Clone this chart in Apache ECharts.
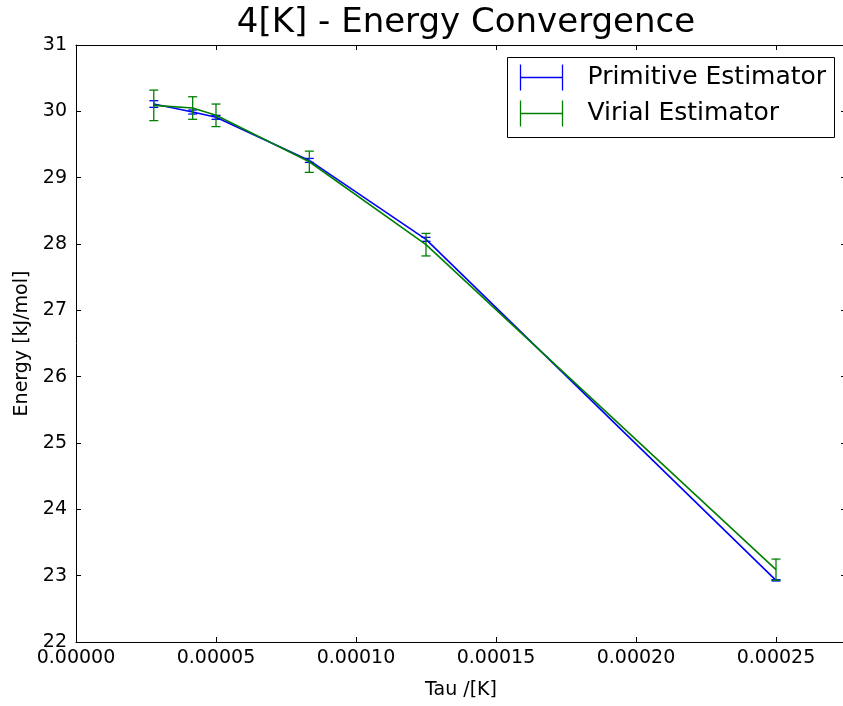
<!DOCTYPE html>
<html>
<head>
<meta charset="utf-8">
<script src="https://cdn.jsdelivr.net/npm/echarts@6/dist/echarts.min.js"></script>
<style>
  html, body { margin: 0; padding: 0; background: #fff; overflow: hidden; }
  /* The plot's right spine sits just past the visible 843px edge */
  #chart { width: 852px; height: 706px; }
</style>
</head>
<body>
<div id="chart"></div>
<script>
// Imaginary-time step (tau) for each run
const tau = [2.778e-5, 4.167e-5, 5.0e-5, 8.333e-5, 1.25e-4, 2.5e-4];

// Primitive estimator energy and its error
const primitive = [30.11, 29.99, 29.91, 29.26, 28.07, 22.93];
const primitiveErr = [0.05, 0.03, 0.03, 0.03, 0.03, 0.01];

// Virial estimator energy and its error
const virial = [30.09, 30.05, 29.94, 29.24, 27.99, 23.09];
const virialErr = [0.23, 0.17, 0.17, 0.16, 0.17, 0.16];

const yTicks = [22, 23, 24, 25, 26, 27, 28, 29, 30, 31];
const xTicks = [0, 0.00005, 0.0001, 0.00015, 0.0002, 0.00025];

const FONT = 'DejaVu Sans';
const BLUE = '#0000ff';
const GREEN = '#008000';

const chart = echarts.init(document.getElementById('chart'), null, { renderer: 'canvas' });

function lineData(vals) {
  return tau.map((t, i) => [t, vals[i]]);
}
function barData(vals, errs) {
  return tau.map((t, i) => [t, vals[i], errs[i]]);
}

// Vertical error bar with horizontal caps
function errorBarRenderer(color) {
  return function (params, api) {
    const x = api.value(0), y = api.value(1), e = api.value(2);
    const hi = api.coord([x, y + e]);
    const lo = api.coord([x, y - e]);
    const cap = 4.5;
    const style = { stroke: color, lineWidth: 1.3 };
    return {
      type: 'group',
      children: [
        { type: 'line', shape: { x1: hi[0], y1: hi[1], x2: lo[0], y2: lo[1] }, style },
        { type: 'line', shape: { x1: hi[0] - cap, y1: hi[1], x2: hi[0] + cap, y2: hi[1] }, style },
        { type: 'line', shape: { x1: lo[0] - cap, y1: lo[1], x2: lo[0] + cap, y2: lo[1] }, style }
      ]
    };
  };
}

const axisCommon = {
  axisLine: { show: true, onZero: false, lineStyle: { color: '#000', width: 1 } },
  axisTick: { show: true, inside: true, length: 5, lineStyle: { color: '#000', width: 1 } },
  splitLine: { show: false }
};

const xMin = 0, xMax = 0.000275, xStep = 0.00005;
const yMin = yTicks[0], yMax = yTicks[yTicks.length - 1], yStep = 1;

const option = {
  animation: false,
  backgroundColor: '#fff',
  title: {
    text: '4[K] - Energy Convergence',
    left: 461,
    textAlign: 'center',
    top: 1,
    textStyle: { fontFamily: FONT, fontSize: 34, fontWeight: 'normal', color: '#000' }
  },
  grid: { left: 76, top: 45, right: 6, bottom: 64 },
  xAxis: [
    Object.assign({}, axisCommon, {
      type: 'value', min: xMin, max: xMax, interval: xStep, position: 'bottom',
      name: 'Tau /[K]', nameLocation: 'middle', nameGap: 39,
      nameTextStyle: { fontFamily: FONT, fontSize: 19, color: '#000' },
      axisLabel: {
        show: true, margin: 7, color: '#000', fontFamily: FONT, fontSize: 19,
        formatter: v => (xTicks.some(t => Math.abs(t - v) < 1e-9) ? v.toFixed(5) : '')
      }
    }),
    Object.assign({}, axisCommon, {
      type: 'value', min: xMin, max: xMax, interval: xStep, position: 'top',
      axisLabel: { show: false }
    })
  ],
  yAxis: [
    Object.assign({}, axisCommon, {
      type: 'value', min: yMin, max: yMax, interval: yStep, position: 'left',
      name: 'Energy [kJ/mol]', nameLocation: 'middle', nameGap: 43,
      nameTextStyle: { fontFamily: FONT, fontSize: 19, color: '#000' },
      axisLabel: { show: true, margin: 9, color: '#000', fontFamily: FONT, fontSize: 19 }
    }),
    Object.assign({}, axisCommon, {
      type: 'value', min: yMin, max: yMax, interval: yStep, position: 'right',
      axisLabel: { show: false }
    })
  ],
  series: [
    {
      name: 'Primitive Estimator', type: 'line', data: lineData(primitive),
      showSymbol: false, symbol: 'none', z: 2,
      lineStyle: { color: BLUE, width: 1.6 }
    },
    {
      name: 'Primitive Estimator err', type: 'custom', data: barData(primitive, primitiveErr),
      renderItem: errorBarRenderer(BLUE), z: 3
    },
    {
      name: 'Virial Estimator', type: 'line', data: lineData(virial),
      showSymbol: false, symbol: 'none', z: 4,
      lineStyle: { color: GREEN, width: 1.6 }
    },
    {
      name: 'Virial Estimator err', type: 'custom', data: barData(virial, virialErr),
      renderItem: errorBarRenderer(GREEN), z: 5
    }
  ],
  graphic: [
    {
      type: 'group', left: 507, top: 57, z: 100,
      children: [
        { type: 'rect', shape: { x: 0, y: 0, width: 327, height: 80 },
          style: { fill: '#fff', stroke: '#000', lineWidth: 1 } },
        // Primitive entry
        { type: 'line', shape: { x1: 13, y1: 20, x2: 55, y2: 20 }, style: { stroke: BLUE, lineWidth: 1.6 } },
        { type: 'line', shape: { x1: 13, y1: 7, x2: 13, y2: 33 }, style: { stroke: BLUE, lineWidth: 1.3 } },
        { type: 'line', shape: { x1: 55, y1: 7, x2: 55, y2: 33 }, style: { stroke: BLUE, lineWidth: 1.3 } },
        { type: 'text', x: 80, y: 20,
          style: { text: 'Primitive Estimator', fill: '#000', font: '25px "DejaVu Sans"', verticalAlign: 'middle' } },
        // Virial entry
        { type: 'line', shape: { x1: 13, y1: 56, x2: 55, y2: 56 }, style: { stroke: GREEN, lineWidth: 1.6 } },
        { type: 'line', shape: { x1: 13, y1: 43, x2: 13, y2: 69 }, style: { stroke: GREEN, lineWidth: 1.3 } },
        { type: 'line', shape: { x1: 55, y1: 43, x2: 55, y2: 69 }, style: { stroke: GREEN, lineWidth: 1.3 } },
        { type: 'text', x: 80, y: 56,
          style: { text: 'Virial Estimator', fill: '#000', font: '25px "DejaVu Sans"', verticalAlign: 'middle' } }
      ]
    }
  ]
};

chart.setOption(option);
</script>
</body>
</html>
